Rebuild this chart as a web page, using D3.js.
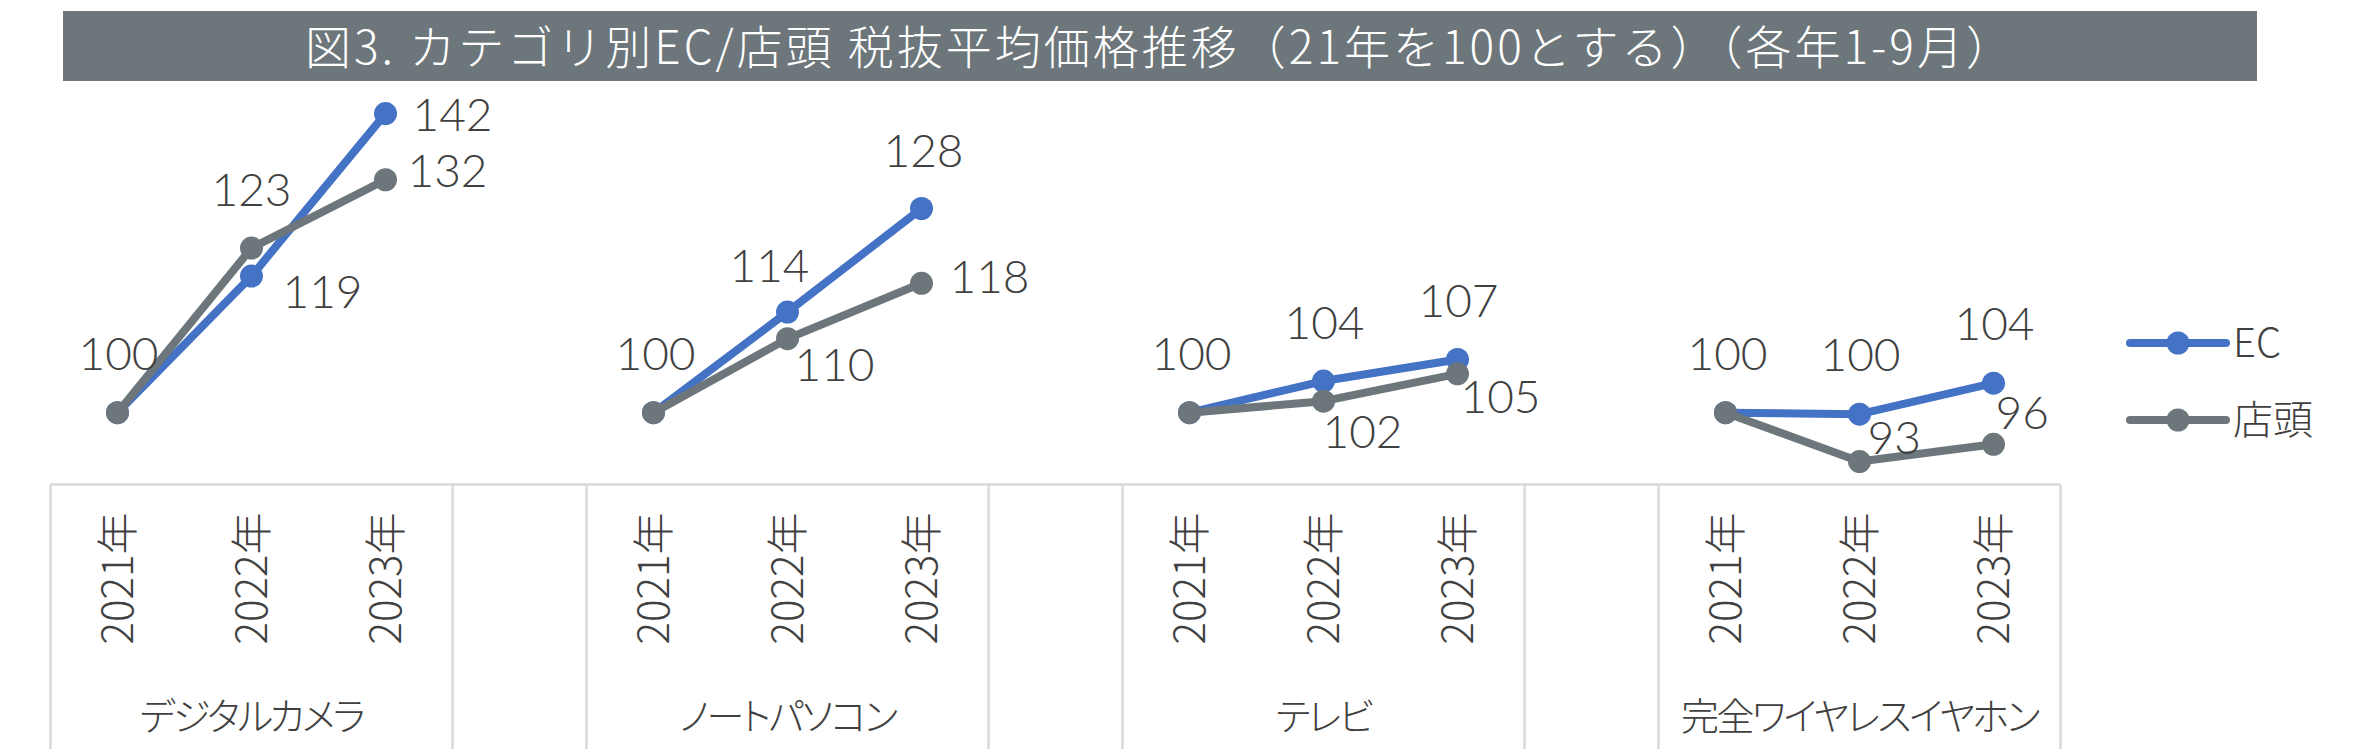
<!DOCTYPE html>
<html>
<head>
<meta charset="utf-8">
<title>カテゴリ別EC/店頭 税抜平均価格推移</title>
<script src="https://d3js.org/d3.v7.min.js"></script>
<style>
  body { margin: 0; background: #fff; }
  svg { display: block; }
  .lbl { font-family: Lato, "Noto Sans", sans-serif; font-weight: 300; fill: #404040; }
  .cjk { font-family: "Noto Sans CJK JP", sans-serif; font-weight: 300; fill: #404040; }
</style>
</head>
<body>
<svg id="chart"></svg>
<script>
// データ（21年を100とした指数）
const titleText = '図3. カテゴリ別EC/店頭 税抜平均価格推移（21年を100とする）（各年1-9月）';
const groups = ['デジタルカメラ', 'ノートパソコン', 'テレビ', '完全ワイヤレスイヤホン'];
const years = ['2021年', '2022年', '2023年'];
const seriesNames = ['EC', '店頭'];
const ecValues = [100, 119.0, 141.6, 100, 114.0, 128.4, 100, 104.4, 107.4, 100, 99.8, 104.1];
const shopValues = [100, 122.9, 132.4, 100, 110.3, 118.0, 100, 101.6, 105.4, 100, 93.2, 95.6];

const width = 2360;
const height = 749;
const colors = { 'EC': '#4472c4', '店頭': '#6c767b' };

// ラベル位置（Excel上で手動配置されたもの）[anchor, dx, dy]
const labelPlace = {
  'EC': [
    ['middle', 1, -43], ['start', 31, 32], ['start', 27, 17],
    ['middle', 2, -43], ['middle', -18, -30], ['middle', 2, -42],
    ['middle', 2, -43], ['middle', 1, -42], ['middle', 1, -42],
    ['middle', 2, -43], ['middle', 1, -43], ['middle', 1, -43]
  ],
  '店頭': [
    null, ['middle', 0, -42], ['start', 22, 7],
    null, ['start', 7, 42], ['start', 28, 10],
    null, ['start', -1, 47], ['start', 3, 39],
    null, ['start', 8, -8], ['start', 2, -15]
  ]
};

const svg = d3.select('#chart').attr('width', width).attr('height', height);

// タイトル
svg.append('rect')
  .attr('x', 63).attr('y', 11).attr('width', 2194).attr('height', 70)
  .attr('fill', '#6c767b');
svg.append('text')
  .attr('x', 1160).attr('y', 64)
  .attr('text-anchor', 'middle')
  .attr('font-family', '"Noto Sans CJK JP", sans-serif')
  .attr('font-weight', 300)
  .attr('font-size', 46)
  .attr('letter-spacing', 3)
  .attr('fill', '#fff')
  .text(titleText);

// カテゴリ軸のスロット（各カテゴリの間に空白スロット）
const slots = [];
groups.forEach((g, gi) => {
  years.forEach(yr => slots.push(g + '|' + yr));
  if (gi < groups.length - 1) slots.push('gap' + gi);
});

const x = d3.scaleBand().domain(slots).range([50.5, 2060.5]);
const cx = k => x(k) + x.bandwidth() / 2;
const y = d3.scaleLinear().domain([90, 150]).range([484.6, 53.2]);

const rows = groups.flatMap((g, gi) => years.map((yr, yi) => ({
  group: g, gi: gi, year: yr, idx: gi * 3 + yi, key: g + '|' + yr,
  'EC': ecValues[gi * 3 + yi],
  '店頭': shopValues[gi * 3 + yi]
})));

// 軸線と区切り線
const axis = svg.append('g');
const axisY = y(90);
axis.append('line')
  .attr('x1', x.range()[0]).attr('x2', x.range()[1])
  .attr('y1', axisY).attr('y2', axisY)
  .attr('stroke', '#d9d9d9').attr('stroke-width', 2.5);

const bounds = [];
slots.forEach((k, i) => {
  if (i === 0 || slots[i - 1].startsWith('gap') || k.startsWith('gap')) bounds.push(x(k));
});
bounds.push(x.range()[1]);
axis.selectAll('line.sep').data(bounds).enter().append('line')
  .attr('class', 'sep')
  .attr('x1', d => d).attr('x2', d => d)
  .attr('y1', axisY).attr('y2', height)
  .attr('stroke', '#d9d9d9').attr('stroke-width', 2.5);

// 年ラベル（縦書き回転）
axis.selectAll('text.year').data(rows).enter().append('text')
  .attr('class', 'cjk year')
  .attr('transform', d => 'translate(' + cx(d.key) + ',' + (axisY + 28) + ') rotate(-90)')
  .attr('text-anchor', 'end')
  .attr('dy', '0.36em')
  .attr('font-size', 42)
  .text(d => d.year);

// カテゴリ名
axis.selectAll('text.group').data(groups).enter().append('text')
  .attr('class', 'cjk group')
  .attr('x', g => (x(g + '|' + years[0]) + x(g + '|' + years[years.length - 1]) + x.bandwidth()) / 2)
  .attr('y', 730)
  .attr('text-anchor', 'middle')
  .attr('font-size', 38)
  .attr('letter-spacing', -2.5)
  .style('font-feature-settings', '"palt" 1')
  .text(g => g);

// 折れ線とマーカー
const line = d3.line().x(d => cx(d.key)).y(d => y(d.v));

seriesNames.forEach(name => {
  const g = svg.append('g');
  groups.forEach((grp, gi) => {
    const pts = rows.filter(r => r.gi === gi).map(r => ({ key: r.key, v: r[name] }));
    g.append('path')
      .datum(pts)
      .attr('d', line)
      .attr('fill', 'none')
      .attr('stroke', colors[name])
      .attr('stroke-width', 8)
      .attr('stroke-linejoin', 'round');
  });
  g.selectAll('circle').data(rows).enter().append('circle')
    .attr('cx', d => cx(d.key))
    .attr('cy', d => y(d[name]))
    .attr('r', 11.5)
    .attr('fill', colors[name]);
});

// データラベル
const fmt = d3.format('.0f');
seriesNames.forEach(name => {
  svg.append('g').selectAll('text')
    .data(rows.filter(r => labelPlace[name][r.idx]))
    .enter().append('text')
    .attr('class', 'lbl')
    .attr('font-size', 46)
    .attr('text-anchor', d => labelPlace[name][d.idx][0])
    .attr('x', d => cx(d.key) + labelPlace[name][d.idx][1])
    .attr('y', d => y(d[name]) + labelPlace[name][d.idx][2])
    .text(d => fmt(d[name]));
});

// 凡例
const legend = svg.append('g').attr('transform', 'translate(2130,0)');
const legendY = [343, 420];
seriesNames.forEach((name, i) => {
  const item = legend.append('g').attr('transform', 'translate(0,' + legendY[i] + ')');
  item.append('line')
    .attr('x1', 0).attr('x2', 96)
    .attr('stroke', colors[name]).attr('stroke-width', 8)
    .attr('stroke-linecap', 'round');
  item.append('circle').attr('cx', 48).attr('r', 11.5).attr('fill', colors[name]);
  item.append('text')
    .attr('class', 'cjk')
    .attr('x', 103).attr('y', 14)
    .attr('font-size', 40)
    .text(name);
});
</script>
</body>
</html>
